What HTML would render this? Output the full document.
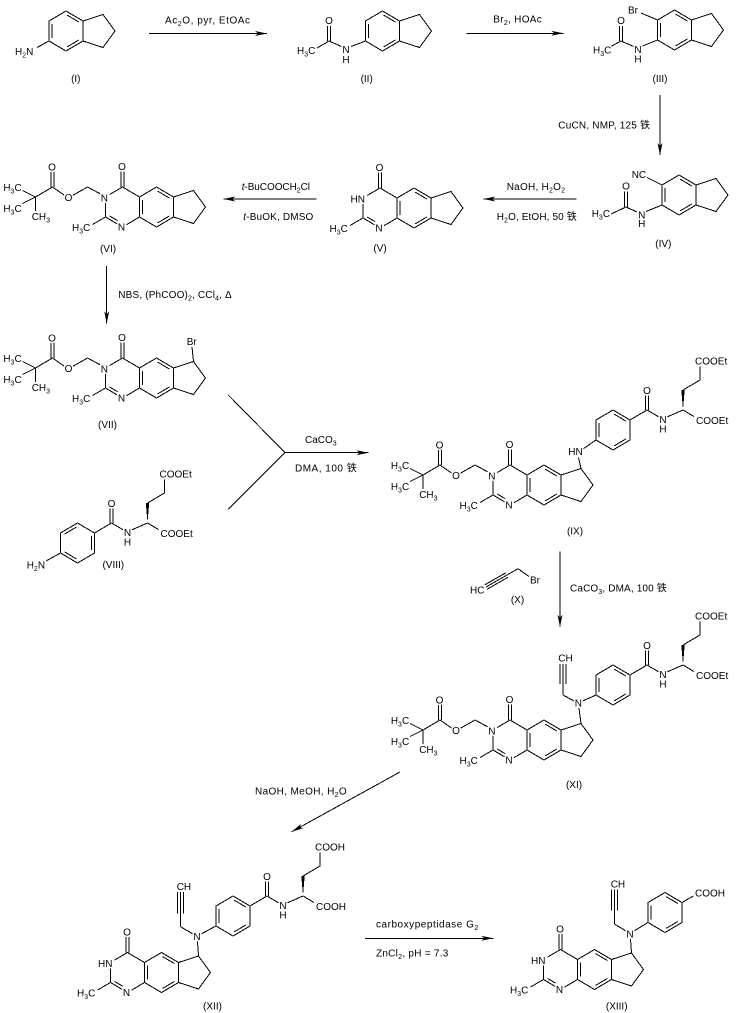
<!DOCTYPE html>
<html><head><meta charset="utf-8">
<style>
html,body{margin:0;padding:0;background:#fff;}
svg{display:block;}
text{font-family:"Liberation Sans","Noto Sans CJK SC",Arial,sans-serif;font-size:10px;fill:#000;stroke:none;}
.l{paint-order:stroke;stroke:#fff;stroke-width:3px;stroke-linejoin:round;}
</style></head><body>
<svg width="736" height="1013" viewBox="0 0 736 1013" xmlns="http://www.w3.org/2000/svg">
<defs>
<marker id="ah" viewBox="0 0 12 6" refX="12" refY="3" markerWidth="12" markerHeight="6" orient="auto" markerUnits="userSpaceOnUse"><path d="M0,0.5L12,3L0,5.5L3,3z" fill="#000" stroke="none"/></marker>
<g id="hA"><path d="M0,-20L17,-10L17,10L0,20L-17,10L-17,-10Z M-14,-7L-14,7 M1.1,-15.9L13,-8.9 M1.1,15.9L13,8.9"/></g>
<g id="hB"><path d="M0,-20L17,-10L17,10L0,20L-17,10L-17,-10Z M14,-7L14,7 M-1.1,-15.9L-13,-8.9 M-1.1,15.9L-13,8.9"/></g>
<g id="ind"><use href="#hA"/><path d="M17,-10L37,-16.5L49,0L37,16.5L17,10"/></g>
<g id="qz"><path d="M0,-20L17,-10 M17,-10L34,-20L51,-10L51,10L34,20L17,10Z M20,-7L20,7 M35.1,-15.9L47,-8.9 M35.1,15.9L47,8.9 M51,-10L71,-16.5L83,0L71,16.5L51,10 M4,17.7L17,10 M-17,10L-4.5,17.4 M-13,8.9L-4.8,13.7 M-17,-5L-17,10 M0,-20L-13,-12.4 M-1.5,-20L-1.5,-35.5 M1.5,-20L1.5,-35.5 M-17,10L-30,17.5"/></g>
<g id="pom"><path d="M-21,-12.5L-35,-20L-50,-11.5 M-58.5,-12L-70,-20L-87,-10 M-71.5,-20L-71.5,-35.5 M-68.5,-20L-68.5,-35.5 M-87,-10L-100,-16.5 M-87,-10L-100,-3.5 M-87,-10L-87,4"/></g>
<g id="am"><path d="M17,-10L34,-20 M32.5,-20L32.5,-34.5 M35.5,-20L35.5,-34.5 M34,-20L46,-13 M54,-13L70,-20 M70,-40L87,-50L87,-63.5 M70,-20L81,-13.5"/><polygon points="70,-20.5 68.3,-40 71.7,-40" fill="#000" stroke="none"/></g>
</defs>

<g fill="none" stroke="#000" stroke-width="1" shape-rendering="crispEdges">

<!-- (I) -->
<use href="#ind" x="66" y="31"/>
<path d="M49,41L37,47.5"/>
<text class="l" x="15" y="55">H<tspan dy="2.5" font-size="7">2</tspan><tspan dy="-2.5">N</tspan></text>
<text x="75.8" y="82" text-anchor="middle">(I)</text>

<!-- arrow 1 -->
<path d="M149,33.5H267" marker-end="url(#ah)"/>
<text x="165" y="23.3" textLength="85" lengthAdjust="spacing">Ac<tspan dy="2.5" font-size="7">2</tspan><tspan dy="-2.5">O, pyr, EtOAc</tspan></text>

<!-- (II) -->
<use href="#ind" x="382.5" y="31"/>
<path d="M365.5,41L351,46.5 M341.5,46.5L329,41 M327.5,41V26 M330.5,41V26 M329,41L317,48"/>
<text class="l" x="342.4" y="53">N</text>
<text x="342.4" y="63">H</text>
<text class="l" x="325.1" y="24">O</text>
<text class="l" x="297" y="54">H<tspan dy="2.5" font-size="7">3</tspan><tspan dy="-2.5">C</tspan></text>
<text x="366.7" y="82" text-anchor="middle">(II)</text>

<!-- arrow 2 -->
<path d="M466.7,33.3H563.3" marker-end="url(#ah)"/>
<text x="493.3" y="22.3" textLength="48.4" lengthAdjust="spacing">Br<tspan dy="2.5" font-size="7">2</tspan><tspan dy="-2.5">, HOAc</tspan></text>

<!-- (III) -->
<use href="#ind" x="674.5" y="30"/>
<path d="M641,13L657.5,20 M657.5,40L642.5,46 M633.5,46.5L621,41 M619.5,41V26 M622.5,41V26 M621,41L610,47"/>
<text class="l" x="628" y="13.5">Br</text>
<text class="l" x="634.4" y="53">N</text>
<text x="634.4" y="62.5">H</text>
<text class="l" x="617.1" y="24">O</text>
<text class="l" x="593" y="53.5">H<tspan dy="2.5" font-size="7">3</tspan><tspan dy="-2.5">C</tspan></text>
<text x="660" y="82" text-anchor="middle">(III)</text>

<!-- arrow 3 -->
<path d="M660,95V155" marker-end="url(#ah)"/>
<text x="558.3" y="128.3" textLength="91.7" lengthAdjust="spacing">CuCN, NMP, 125 铁</text>

<!-- (IV) -->
<use href="#ind" x="679" y="195"/>
<path d="M647,177.5L662,185 M662,205L646,211.5 M637,212L626,207 M624.5,207V191.5 M627.5,207V191.5 M626,207L611,214"/>
<text class="l" x="631.7" y="178">NC</text>
<text class="l" x="638.1" y="218.5">N</text>
<text x="638.1" y="227">H</text>
<text class="l" x="622.1" y="189.5">O</text>
<text class="l" x="591.7" y="217">H<tspan dy="2.5" font-size="7">3</tspan><tspan dy="-2.5">C</tspan></text>
<text x="663.3" y="247" text-anchor="middle">(IV)</text>

<!-- arrow 4 -->
<path d="M576.7,199H483.3" marker-end="url(#ah)"/>
<text x="506.7" y="190" textLength="58.3" lengthAdjust="spacing">NaOH, H<tspan dy="2.5" font-size="7">2</tspan><tspan dy="-2.5">O</tspan><tspan dy="2.5" font-size="7">2</tspan></text>
<text x="496.7" y="220" textLength="80" lengthAdjust="spacing">H<tspan dy="2.5" font-size="7">2</tspan><tspan dy="-2.5">O, EtOH, 50 铁</tspan></text>

<!-- (V) -->
<g transform="translate(380,208)">
<use href="#qz"/>
<text class="l" x="-4.4" y="-36.8">O</text>
<text class="l" x="-15" y="-5.3" text-anchor="end">HN</text>
<text class="l" x="-4.6" y="23.7">N</text>
<text class="l" x="-50.5" y="24">H<tspan dy="2.5" font-size="7">3</tspan><tspan dy="-2.5">C</tspan></text>
</g>
<text x="380" y="251.3" text-anchor="middle">(V)</text>

<!-- arrow 5 -->
<path d="M316.7,199H223.3" marker-end="url(#ah)"/>
<text x="241.7" y="190" textLength="68.3" lengthAdjust="spacing"><tspan font-style="italic">t</tspan>-BuCOOCH<tspan dy="2.5" font-size="7">2</tspan><tspan dy="-2.5">Cl</tspan></text>
<text x="243.3" y="220" textLength="70" lengthAdjust="spacing"><tspan font-style="italic">t</tspan>-BuOK, DMSO</text>

<!-- (VI) -->
<g transform="translate(122.5,207)">
<use href="#qz"/><use href="#pom"/>
<text class="l" x="-4.4" y="-36.8">O</text>
<text class="l" x="-21.8" y="-5.3">N</text>
<text class="l" x="-4.6" y="23.7">N</text>
<text class="l" x="-50.5" y="24">H<tspan dy="2.5" font-size="7">3</tspan><tspan dy="-2.5">C</tspan></text>
<text class="l" x="-57.9" y="-6">O</text>
<text class="l" x="-74.4" y="-36.5">O</text>
<text class="l" x="-119.2" y="-16">H<tspan dy="2.5" font-size="7">3</tspan><tspan dy="-2.5">C</tspan></text>
<text class="l" x="-119.2" y="5">H<tspan dy="2.5" font-size="7">3</tspan><tspan dy="-2.5">C</tspan></text>
<text class="l" x="-90.8" y="13">CH<tspan dy="2.5" font-size="7">3</tspan></text>
</g>
<text x="108" y="252" text-anchor="middle">(VI)</text>

<!-- arrow 6 -->
<path d="M106.7,266V323.3" marker-end="url(#ah)"/>
<text x="118.3" y="298" textLength="113.4" lengthAdjust="spacing">NBS, (PhCOO)<tspan dy="2.5" font-size="7">2</tspan><tspan dy="-2.5">, CCl</tspan><tspan dy="2.5" font-size="7">4</tspan><tspan dy="-2.5">, Δ</tspan></text>

<!-- (VII) -->
<g transform="translate(122.5,378)">
<use href="#qz"/><use href="#pom"/>
<path d="M69.5,-31L71,-16.5"/>
<text class="l" x="64.2" y="-33">Br</text>
<text class="l" x="-4.4" y="-36.8">O</text>
<text class="l" x="-21.8" y="-5.3">N</text>
<text class="l" x="-4.6" y="23.7">N</text>
<text class="l" x="-50.5" y="24">H<tspan dy="2.5" font-size="7">3</tspan><tspan dy="-2.5">C</tspan></text>
<text class="l" x="-57.9" y="-6">O</text>
<text class="l" x="-74.4" y="-36.5">O</text>
<text class="l" x="-119.2" y="-16">H<tspan dy="2.5" font-size="7">3</tspan><tspan dy="-2.5">C</tspan></text>
<text class="l" x="-119.2" y="5">H<tspan dy="2.5" font-size="7">3</tspan><tspan dy="-2.5">C</tspan></text>
<text class="l" x="-90.8" y="13">CH<tspan dy="2.5" font-size="7">3</tspan></text>
</g>
<text x="107.5" y="428" text-anchor="middle">(VII)</text>

<!-- merge arrow 7 -->
<path d="M228.3,395L285,452.7L228.3,509.3"/>
<path d="M285,452.7H368.5" marker-end="url(#ah)"/>
<text x="305" y="443" textLength="31.7" lengthAdjust="spacing">CaCO<tspan dy="2.5" font-size="7">3</tspan></text>
<text x="295" y="471.7" textLength="61.7" lengthAdjust="spacing">DMA, 100 铁</text>

<!-- (VIII) -->
<use href="#hB" x="77.5" y="543"/>
<path d="M60.5,553L46,561"/>
<text class="l" x="26.7" y="568.5">H<tspan dy="2.5" font-size="7">2</tspan><tspan dy="-2.5">N</tspan></text>
<g transform="translate(77.5,543)">
<use href="#am"/>
<text class="l" x="30.1" y="-36">O</text>
<text class="l" x="46.4" y="-7">N</text>
<text x="46.4" y="2.5">H</text>
<text class="l" x="82" y="-65.5">COOEt</text>
<text class="l" x="83" y="-6">COOEt</text>
</g>
<text x="113.3" y="568" text-anchor="middle">(VIII)</text>

<!-- (IX) -->
<g transform="translate(510,485)">
<use href="#qz"/><use href="#pom"/>
<text class="l" x="-4.4" y="-36.8">O</text>
<text class="l" x="-21.8" y="-5.3">N</text>
<text class="l" x="-4.6" y="23.7">N</text>
<text class="l" x="-50.5" y="24">H<tspan dy="2.5" font-size="7">3</tspan><tspan dy="-2.5">C</tspan></text>
<text class="l" x="-57.9" y="-6">O</text>
<text class="l" x="-74.4" y="-36.5">O</text>
<text class="l" x="-119.2" y="-16">H<tspan dy="2.5" font-size="7">3</tspan><tspan dy="-2.5">C</tspan></text>
<text class="l" x="-119.2" y="5">H<tspan dy="2.5" font-size="7">3</tspan><tspan dy="-2.5">C</tspan></text>
<text class="l" x="-90.8" y="13">CH<tspan dy="2.5" font-size="7">3</tspan></text>
</g>
<path d="M578.5,457.5L581,468.5 M583,449L596,440"/>
<text class="l" x="568.3" y="455">HN</text>
<use href="#hA" x="613" y="430"/>
<g transform="translate(613,430)">
<use href="#am"/>
<text class="l" x="30.1" y="-36">O</text>
<text class="l" x="46.4" y="-7">N</text>
<text x="46.4" y="2.5">H</text>
<text class="l" x="82" y="-65.5">COOEt</text>
<text class="l" x="83" y="-6">COOEt</text>
</g>
<text x="575" y="534.7" text-anchor="middle">(IX)</text>

<!-- (X) + arrow 8 -->
<path d="M486,587L507,575 M487.2,589.2L508.2,577.2 M484.8,584.8L505.8,572.8 M507,575L518,568.7L529,576.5"/>
<text class="l" x="470" y="593.3">HC</text>
<text class="l" x="530" y="583.5">Br</text>
<text x="517.5" y="603" text-anchor="middle">(X)</text>
<path d="M560,551.7V626.7" marker-end="url(#ah)"/>
<text x="570" y="591.7" textLength="96.7" lengthAdjust="spacing">CaCO<tspan dy="2.5" font-size="7">3</tspan><tspan dy="-2.5">, DMA, 100 铁</tspan></text>

<!-- (XI) -->
<g transform="translate(510,740)">
<use href="#qz"/><use href="#pom"/>
<text class="l" x="-4.4" y="-36.8">O</text>
<text class="l" x="-21.8" y="-5.3">N</text>
<text class="l" x="-4.6" y="23.7">N</text>
<text class="l" x="-50.5" y="24">H<tspan dy="2.5" font-size="7">3</tspan><tspan dy="-2.5">C</tspan></text>
<text class="l" x="-57.9" y="-6">O</text>
<text class="l" x="-74.4" y="-36.5">O</text>
<text class="l" x="-119.2" y="-16">H<tspan dy="2.5" font-size="7">3</tspan><tspan dy="-2.5">C</tspan></text>
<text class="l" x="-119.2" y="5">H<tspan dy="2.5" font-size="7">3</tspan><tspan dy="-2.5">C</tspan></text>
<text class="l" x="-90.8" y="13">CH<tspan dy="2.5" font-size="7">3</tspan></text>
</g>
<path d="M579,708L581,723.5 M582.5,701L596,695 M574,701L563,695 M563,695V664 M560,684V664 M566,684V664"/>
<text class="l" x="574.7" y="706.5">N</text>
<text class="l" x="558.3" y="661.7">CH</text>
<use href="#hA" x="613" y="685"/>
<g transform="translate(613,685)">
<use href="#am"/>
<text class="l" x="30.1" y="-36">O</text>
<text class="l" x="46.4" y="-7">N</text>
<text x="46.4" y="2.5">H</text>
<text class="l" x="82" y="-65.5">COOEt</text>
<text class="l" x="83" y="-6">COOEt</text>
</g>
<text x="574" y="788" text-anchor="middle">(XI)</text>

<!-- arrow 9 -->
<path d="M400,772L291.7,831.7" marker-end="url(#ah)"/>
<text x="255" y="794.3" textLength="91.7" lengthAdjust="spacing">NaOH, MeOH, H<tspan dy="2.5" font-size="7">2</tspan><tspan dy="-2.5">O</tspan></text>

<!-- (XII) -->
<g transform="translate(127.5,972.5)">
<use href="#qz"/>
<text class="l" x="-4.4" y="-36.8">O</text>
<text class="l" x="-15" y="-5.3" text-anchor="end">HN</text>
<text class="l" x="-4.6" y="23.7">N</text>
<text class="l" x="-50.5" y="24">H<tspan dy="2.5" font-size="7">3</tspan><tspan dy="-2.5">C</tspan></text>
</g>
<path d="M197.5,941.5L198.5,956 M201,934L216,926 M193,934L180.5,926.7 M180.5,926.7V892 M177.5,913.3V892 M183.5,913.3V892"/>
<text class="l" x="193.4" y="940">N</text>
<text class="l" x="176.7" y="890">CH</text>
<use href="#hA" x="233" y="916"/>
<g transform="translate(233,916)">
<use href="#am"/>
<text class="l" x="30.1" y="-36">O</text>
<text class="l" x="46.4" y="-7">N</text>
<text x="46.4" y="2.5">H</text>
<text class="l" x="82" y="-65.5">COOH</text>
<text class="l" x="83" y="-6">COOH</text>
</g>
<text x="212.5" y="1009.7" text-anchor="middle">(XII)</text>

<!-- arrow 10 -->
<path d="M365,938.3H493.3" marker-end="url(#ah)"/>
<text x="376" y="927.7" textLength="102.3" lengthAdjust="spacing">carboxypeptidase G<tspan dy="2.5" font-size="7">2</tspan></text>
<text x="376" y="956.7" textLength="72.3" lengthAdjust="spacing">ZnCl<tspan dy="2.5" font-size="7">2</tspan><tspan dy="-2.5">, pH = 7.3</tspan></text>

<!-- (XIII) -->
<g transform="translate(560.5,969.5)">
<use href="#qz"/>
<text class="l" x="-4.4" y="-36.8">O</text>
<text class="l" x="-15" y="-5.3" text-anchor="end">HN</text>
<text class="l" x="-4.6" y="23.7">N</text>
<text class="l" x="-50.5" y="24">H<tspan dy="2.5" font-size="7">3</tspan><tspan dy="-2.5">C</tspan></text>
</g>
<path d="M630.5,939L631.5,953 M634,931L648,922.5 M626,931L614.5,924 M614.5,924V889.5 M611.5,910.5V889.5 M617.5,910.5V889.5"/>
<text class="l" x="626.4" y="937.3">N</text>
<text class="l" x="610.7" y="887.7">CH</text>
<use href="#hA" x="665" y="912.5"/>
<path d="M682,902.5L693.5,896"/>
<text class="l" x="695" y="896.7">COOH</text>
<text x="616.7" y="1009.7" text-anchor="middle">(XIII)</text>

</g>
</svg>
</body></html>
